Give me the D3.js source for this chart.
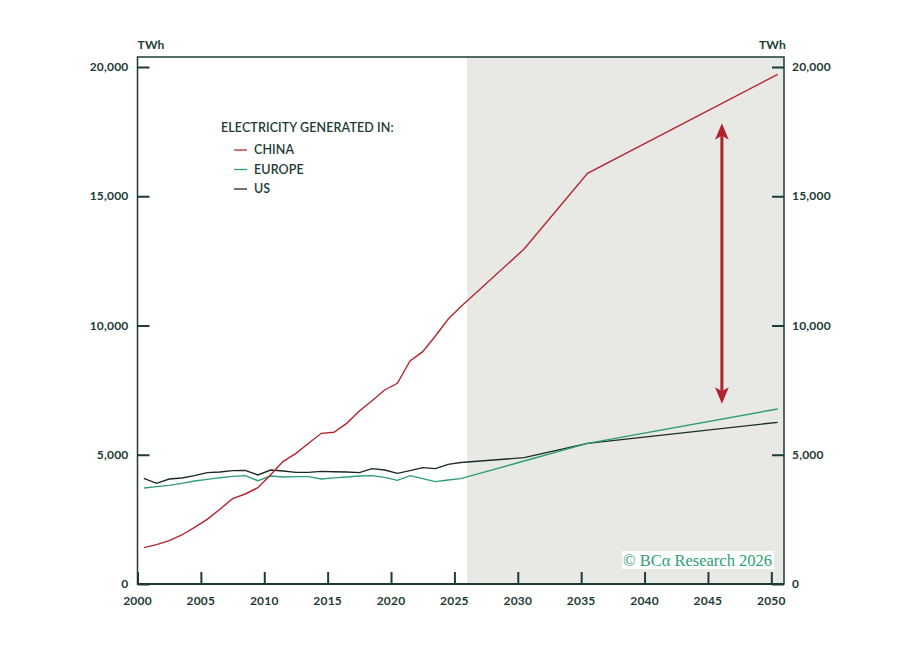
<!DOCTYPE html>
<html>
<head>
<meta charset="utf-8">
<script src="https://cdnjs.cloudflare.com/ajax/libs/d3/7.8.5/d3.min.js"></script>
<style>
  body { margin: 0; background: #fff; }
  svg { display: block; font-family: Lato, "Open Sans", sans-serif; }
  .tick-label { font-size: 12px; font-weight: 700; fill: #1d3b35; letter-spacing: 0.2px; }
  .legend text { font-size: 12.5px; font-weight: 600; fill: #1d3b35; letter-spacing: 0.1px; }
</style>
</head>
<body>
<svg id="chart" width="912" height="653"></svg>
<script>
// Data (TWh, mid-year points)
const years = [2000,2001,2002,2003,2004,2005,2006,2007,2008,2009,
               2010,2011,2012,2013,2014,2015,2016,2017,2018,2019,
               2020,2021,2022,2023,2024,2025,2030,2035,2050];
const china = [1405,1521,1676,1896,2192,2502,2889,3301,3482,3727,
               4229,4745,5055,5442,5829,5868,6215,6692,7092,7505,
               7763,8627,8988,9594,10239,10729,12959,15886,19717];
const europe = [3714,3765,3817,3894,3985,4049,4113,4165,4191,3997,
                4178,4139,4152,4152,4062,4105,4139,4178,4191,4126,
                4010,4191,4075,3959,4023,4075,4760,5442,6770];
const us = [4088,3894,4062,4101,4191,4307,4333,4384,4397,4217,
            4410,4371,4320,4320,4358,4345,4333,4307,4462,4410,
            4281,4384,4500,4462,4629,4700,4887,5442,6254];

const xTicks = [2000,2005,2010,2015,2020,2025,2030,2035,2040,2045,2050];
const yTicks = [0,5000,10000,15000,20000];
const forecastStart = 2026;
const arrowSpan = {year: 2046.1, from: 7100, to: 17700};

const seriesList = [
  {name: "CHINA", values: china, color: "#b3262f"},
  {name: "EUROPE", values: europe, color: "#2e9e76"},
  {name: "US", values: us, color: "#1c2b27"}
];

const axisColor = "#1d3b35";
const svg = d3.select("#chart");
const plotLeft = 137.5, plotRight = 784, plotTop = 57, plotBottom = 584;

const x = d3.scaleLinear().domain([2000, 2051]).range([plotLeft, plotRight]);
const y = d3.scaleLinear().domain([0, 20000]).range([plotBottom, 67]);

// forecast shading
svg.append("rect")
  .attr("x", x(forecastStart)).attr("y", plotTop)
  .attr("width", plotRight - x(forecastStart)).attr("height", plotBottom - plotTop)
  .attr("fill", "#e8e8e4");

// frame
svg.append("rect")
  .attr("x", plotLeft).attr("y", plotTop)
  .attr("width", plotRight - plotLeft).attr("height", plotBottom - plotTop)
  .attr("fill", "none").attr("stroke", axisColor).attr("stroke-width", 1.5);
svg.append("line")
  .attr("x1", plotLeft).attr("x2", plotRight).attr("y1", plotBottom).attr("y2", plotBottom)
  .attr("stroke", axisColor).attr("stroke-width", 2);

// axes (ticks only, pointing inward)
const fmt = d3.format(",");
const yLeft = svg.append("g").attr("transform", `translate(${plotLeft},0)`)
  .call(d3.axisRight(y).tickValues(yTicks).tickSize(12).tickFormat(""));
const yRight = svg.append("g").attr("transform", `translate(${plotRight},0)`)
  .call(d3.axisLeft(y).tickValues(yTicks).tickSize(12).tickFormat(""));
const xAxis = svg.append("g").attr("transform", `translate(0,${plotBottom})`)
  .call(d3.axisTop(x).tickValues(xTicks).tickSize(12).tickFormat(""));
[yLeft, yRight, xAxis].forEach(g => {
  g.select(".domain").remove();
  g.selectAll(".tick line").attr("stroke", axisColor).attr("stroke-width", 2);
});

svg.selectAll("text.ylab-l").data(yTicks).enter().append("text")
  .attr("class", "tick-label").attr("text-anchor", "end")
  .attr("x", plotLeft - 9).attr("y", d => y(d) + 4).text(fmt);
svg.selectAll("text.ylab-r").data(yTicks).enter().append("text")
  .attr("class", "tick-label").attr("text-anchor", "start")
  .attr("x", plotRight + 8).attr("y", d => y(d) + 4).text(fmt);
svg.selectAll("text.xlab").data(xTicks).enter().append("text")
  .attr("class", "tick-label").attr("text-anchor", "middle")
  .attr("x", d => x(d)).attr("y", plotBottom + 21).text(d => d);

svg.append("text").attr("class", "tick-label")
  .attr("x", plotLeft).attr("y", 49).text("TWh");
svg.append("text").attr("class", "tick-label").attr("text-anchor", "end")
  .attr("x", plotRight + 2).attr("y", 49).text("TWh");

// lines
const line = d3.line()
  .x((d, i) => x(years[i] + 0.5))
  .y(d => y(d));
svg.append("g").selectAll("path").data(seriesList.slice().reverse()).enter()
  .append("path")
  .attr("d", s => line(s.values))
  .attr("fill", "none")
  .attr("stroke", s => s.color)
  .attr("stroke-width", 1.4);

// double arrow
const defs = svg.append("defs");
defs.append("marker")
  .attr("id", "head").attr("viewBox", "0 0 12 12")
  .attr("refX", 6).attr("refY", 6)
  .attr("markerWidth", 5.5).attr("markerHeight", 5.5)
  .attr("markerUnits", "strokeWidth")
  .attr("orient", "auto-start-reverse")
  .append("path").attr("d", "M0,1 L12,6 L0,11 L3,6 Z").attr("fill", "#b3212e");
svg.append("line")
  .attr("x1", x(arrowSpan.year)).attr("x2", x(arrowSpan.year))
  .attr("y1", y(arrowSpan.from) - 5).attr("y2", y(arrowSpan.to) + 5)
  .attr("stroke", "#b3212e").attr("stroke-width", 3)
  .attr("marker-start", "url(#head)").attr("marker-end", "url(#head)");

// legend
const legend = svg.append("g").attr("class", "legend").attr("transform", "translate(221,132)");
legend.append("text").attr("x", 0).attr("y", 0).text("ELECTRICITY GENERATED IN:");
const item = legend.selectAll("g.item").data(seriesList).enter().append("g")
  .attr("class", "item").attr("transform", (d, i) => `translate(0,${22 + i * 19.5})`);
item.append("line").attr("x1", 13).attr("x2", 26).attr("y1", -4).attr("y2", -4)
  .attr("stroke", d => d.color).attr("stroke-width", 1.3);
item.append("text").attr("x", 33).attr("y", 0).text(d => d.name);

// watermark
const wm = svg.append("g");
wm.append("rect").attr("x", 622).attr("y", 551).attr("width", 152).attr("height", 18).attr("fill", "#fff");
wm.append("text").attr("x", 623).attr("y", 566)
  .attr("font-family", "'Liberation Serif', 'DejaVu Serif', serif")
  .attr("font-size", 16.5).attr("fill", "#2e9e76")
  .text("© BCα Research 2026");
</script>
</body>
</html>
